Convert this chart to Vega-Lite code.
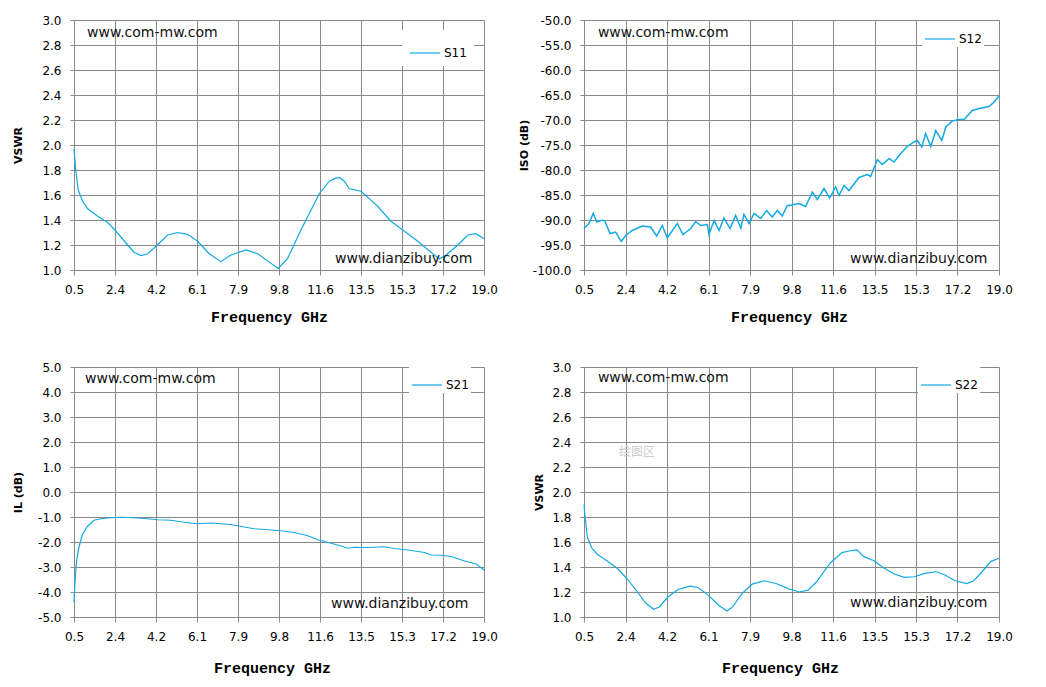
{
  "$schema": "https://vega.github.io/schema/vega-lite/v6.json",
  "background": "white",
  "padding": {"left": 12, "top": 14, "right": 0, "bottom": 6},
  "columns": 2,
  "spacing": {"column": 20, "row": 37},
  "resolve": {"scale": {"color": "independent"}, "legend": {"color": "independent"}},
  "config": {
    "view": {"stroke": null},
    "axis": {
      "gridColor": "#888888",
      "gridOpacity": 1,
      "gridWidth": 1,
      "domainColor": "#888888",
      "domainWidth": 1,
      "tickColor": "#888888",
      "tickSize": 4,
      "tickCount": 11,
      "labelFont": "DejaVu Sans",
      "labelFontSize": 12,
      "labelColor": "#000000",
      "labelPadding": 9,
      "labelFlush": false,
      "labelOverlap": false,
      "titleColor": "#000000"
    },
    "axisX": {
      "tickSize": 5,
      "labelPadding": 9,
      "titleFont": "Liberation Mono",
      "titleFontSize": 15,
      "titleFontWeight": "bold"
    },
    "axisY": {
      "titleFont": "DejaVu Sans",
      "titleFontSize": 11,
      "titleFontWeight": "bold"
    },
    "legend": {
      "orient": "none",
      "title": null,
      "symbolType": "stroke",
      "symbolSize": 900,
      "symbolStrokeWidth": 1.5,
      "labelFont": "DejaVu Sans",
      "labelFontSize": 12,
      "labelColor": "#000000",
      "labelOffset": 3,
      "padding": 2,
      "fillColor": "white"
    },
    "line": {"strokeWidth": 1.2}
  },
  "concat": [
    {
      "width": 410,
      "height": 250,
      "data": {"values": [
        {"f": 0.5, "v": 1.97}, {"f": 0.58, "v": 1.8}, {"f": 0.69, "v": 1.64}, {"f": 0.89, "v": 1.55},
        {"f": 1.12, "v": 1.49}, {"f": 1.57, "v": 1.43}, {"f": 2.02, "v": 1.38}, {"f": 2.4, "v": 1.31},
        {"f": 2.92, "v": 1.2}, {"f": 3.22, "v": 1.14}, {"f": 3.52, "v": 1.115}, {"f": 3.83, "v": 1.13},
        {"f": 4.2, "v": 1.19}, {"f": 4.73, "v": 1.28}, {"f": 5.18, "v": 1.3}, {"f": 5.63, "v": 1.285},
        {"f": 6.08, "v": 1.23}, {"f": 6.6, "v": 1.13}, {"f": 7.13, "v": 1.067}, {"f": 7.58, "v": 1.12},
        {"f": 8.26, "v": 1.16}, {"f": 8.79, "v": 1.13}, {"f": 9.39, "v": 1.053}, {"f": 9.72, "v": 1.013},
        {"f": 10.14, "v": 1.093}, {"f": 10.74, "v": 1.32}, {"f": 11.57, "v": 1.61}, {"f": 12.02, "v": 1.71},
        {"f": 12.3, "v": 1.735}, {"f": 12.47, "v": 1.74}, {"f": 12.7, "v": 1.71}, {"f": 12.92, "v": 1.65},
        {"f": 13.2, "v": 1.64}, {"f": 13.45, "v": 1.63}, {"f": 13.8, "v": 1.575}, {"f": 14.2, "v": 1.51},
        {"f": 14.8, "v": 1.39}, {"f": 15.41, "v": 1.31}, {"f": 16.01, "v": 1.23}, {"f": 16.76, "v": 1.12},
        {"f": 16.99, "v": 1.09}, {"f": 17.29, "v": 1.12}, {"f": 17.82, "v": 1.2}, {"f": 18.27, "v": 1.28},
        {"f": 18.64, "v": 1.29}, {"f": 19.0, "v": 1.25}
      ]},
      "layer": [
        {
          "mark": {"type": "line"},
          "encoding": {
            "x": {"field": "f", "type": "quantitative", "title": "Frequency GHz",
              "scale": {"domain": [0.5, 19], "nice": false, "zero": false},
              "axis": {"values": [0.5, 2.35, 4.2, 6.05, 7.9, 9.75, 11.6, 13.45, 15.3, 17.15, 19],
                "labelExpr": "format(datum.value + 0.0001, '.1f')", "titlePadding": 14, "titleX": 195}},
            "y": {"field": "v", "type": "quantitative", "title": "VSWR",
              "scale": {"domain": [1, 3], "nice": false, "zero": false},
              "axis": {"values": [1, 1.2, 1.4, 1.6, 1.8, 2, 2.2, 2.4, 2.6, 2.8, 3], "format": ".1f", "titlePadding": 18}},
            "color": {"datum": "S11", "type": "nominal", "scale": {"range": ["#12a9e4"]},
              "legend": {"legendX": 328, "legendY": 10, "padding": 7}}
          }
        },
        {
          "data": {"values": [{}]},
          "mark": {"type": "text", "align": "left", "baseline": "middle", "font": "DejaVu Sans", "fontSize": 14, "color": "#111111"},
          "encoding": {"x": {"datum": 1.09}, "y": {"datum": 2.896}, "text": {"value": "www.com-mw.com"}}
        },
        {
          "data": {"values": [{}]},
          "mark": {"type": "text", "align": "left", "baseline": "middle", "font": "DejaVu Sans", "fontSize": 14, "color": "#111111"},
          "encoding": {"x": {"datum": 12.28}, "y": {"datum": 1.088}, "text": {"value": "www.dianzibuy.com"}}
        }
      ]
    },
    {
      "width": 415,
      "height": 250,
      "data": {"values": [
        {"f": 0.5, "v": -91.7}, {"f": 0.72, "v": -90.7}, {"f": 0.91, "v": -88.7}, {"f": 1.07, "v": -90.4},
        {"f": 1.24, "v": -90.1}, {"f": 1.42, "v": -90.1}, {"f": 1.66, "v": -92.7}, {"f": 1.91, "v": -92.4},
        {"f": 2.16, "v": -94.3}, {"f": 2.36, "v": -93.1}, {"f": 2.65, "v": -92.1}, {"f": 3.1, "v": -91.2},
        {"f": 3.47, "v": -91.4}, {"f": 3.74, "v": -93.2}, {"f": 3.99, "v": -91.1}, {"f": 4.21, "v": -93.6},
        {"f": 4.66, "v": -90.7}, {"f": 4.91, "v": -92.9}, {"f": 5.26, "v": -91.7}, {"f": 5.48, "v": -90.3},
        {"f": 5.7, "v": -91.1}, {"f": 6.0, "v": -90.9}, {"f": 6.07, "v": -92.9}, {"f": 6.3, "v": -90.1},
        {"f": 6.52, "v": -92.1}, {"f": 6.74, "v": -89.6}, {"f": 7.01, "v": -91.7}, {"f": 7.26, "v": -89.1},
        {"f": 7.49, "v": -91.6}, {"f": 7.63, "v": -88.9}, {"f": 7.86, "v": -90.7}, {"f": 8.08, "v": -88.7},
        {"f": 8.38, "v": -89.7}, {"f": 8.64, "v": -88.1}, {"f": 8.89, "v": -89.4}, {"f": 9.12, "v": -88.1},
        {"f": 9.34, "v": -89.2}, {"f": 9.56, "v": -87.1}, {"f": 9.64, "v": -87.1}, {"f": 10.09, "v": -86.7},
        {"f": 10.38, "v": -87.3}, {"f": 10.68, "v": -84.4}, {"f": 10.9, "v": -85.9}, {"f": 11.2, "v": -83.7},
        {"f": 11.45, "v": -85.6}, {"f": 11.72, "v": -83.4}, {"f": 11.87, "v": -85.1}, {"f": 12.09, "v": -83.1},
        {"f": 12.31, "v": -84.1}, {"f": 12.76, "v": -81.5}, {"f": 13.13, "v": -80.9}, {"f": 13.28, "v": -81.3},
        {"f": 13.58, "v": -77.9}, {"f": 13.8, "v": -78.9}, {"f": 14.1, "v": -77.7}, {"f": 14.32, "v": -78.4},
        {"f": 14.62, "v": -76.7}, {"f": 14.91, "v": -75.3}, {"f": 15.21, "v": -74.4}, {"f": 15.36, "v": -74.1},
        {"f": 15.56, "v": -75.4}, {"f": 15.73, "v": -72.7}, {"f": 15.96, "v": -75.3}, {"f": 16.18, "v": -72.1},
        {"f": 16.45, "v": -74.1}, {"f": 16.63, "v": -71.4}, {"f": 16.92, "v": -70.2}, {"f": 17.22, "v": -69.9},
        {"f": 17.44, "v": -69.9}, {"f": 17.81, "v": -68.1}, {"f": 18.11, "v": -67.7}, {"f": 18.56, "v": -67.3},
        {"f": 18.78, "v": -66.4}, {"f": 19.0, "v": -65.2}
      ]},
      "layer": [
        {
          "mark": {"type": "line", "strokeWidth": 1.5},
          "encoding": {
            "x": {"field": "f", "type": "quantitative", "title": "Frequency GHz",
              "scale": {"domain": [0.5, 19], "nice": false, "zero": false},
              "axis": {"values": [0.5, 2.35, 4.2, 6.05, 7.9, 9.75, 11.6, 13.45, 15.3, 17.15, 19],
                "labelExpr": "format(datum.value + 0.0001, '.1f')", "titlePadding": 14, "titleX": 205}},
            "y": {"field": "v", "type": "quantitative", "title": "ISO (dB)",
              "scale": {"domain": [-100, -50], "nice": false, "zero": false},
              "axis": {"values": [-100, -95, -90, -85, -80, -75, -70, -65, -60, -55, -50],
                "labelExpr": "replace(format(datum.value, '.1f'), '\u2212', '-')", "titlePadding": 3}},
            "color": {"datum": "S12", "type": "nominal", "scale": {"range": ["#12a9e4"]},
              "legend": {"legendX": 338, "legendY": 1}}
          }
        },
        {
          "data": {"values": [{}]},
          "mark": {"type": "text", "align": "left", "baseline": "middle", "font": "DejaVu Sans", "fontSize": 14, "color": "#111111"},
          "encoding": {"x": {"datum": 1.12}, "y": {"datum": -52.6}, "text": {"value": "www.com-mw.com"}}
        },
        {
          "data": {"values": [{}]},
          "mark": {"type": "text", "align": "left", "baseline": "middle", "font": "DejaVu Sans", "fontSize": 14, "color": "#111111"},
          "encoding": {"x": {"datum": 12.36}, "y": {"datum": -97.8}, "text": {"value": "www.dianzibuy.com"}}
        }
      ]
    },
    {
      "width": 410,
      "height": 250,
      "data": {"values": [
        {"f": 0.5, "v": -4.4}, {"f": 0.56, "v": -3.39}, {"f": 0.62, "v": -2.72}, {"f": 0.73, "v": -2.18},
        {"f": 0.88, "v": -1.71}, {"f": 1.1, "v": -1.38}, {"f": 1.4, "v": -1.13}, {"f": 1.71, "v": -1.07},
        {"f": 2.16, "v": -1.03}, {"f": 2.61, "v": -1.01}, {"f": 3.21, "v": -1.03}, {"f": 3.81, "v": -1.07},
        {"f": 4.27, "v": -1.11}, {"f": 4.87, "v": -1.13}, {"f": 5.47, "v": -1.21}, {"f": 6.07, "v": -1.27},
        {"f": 6.68, "v": -1.24}, {"f": 7.28, "v": -1.28}, {"f": 7.73, "v": -1.32}, {"f": 8.18, "v": -1.4},
        {"f": 8.64, "v": -1.47}, {"f": 9.24, "v": -1.51}, {"f": 9.84, "v": -1.55}, {"f": 10.44, "v": -1.62},
        {"f": 11.05, "v": -1.75}, {"f": 11.5, "v": -1.91}, {"f": 12.1, "v": -2.05}, {"f": 12.63, "v": -2.18},
        {"f": 12.85, "v": -2.25}, {"f": 13.15, "v": -2.21}, {"f": 13.76, "v": -2.22}, {"f": 14.51, "v": -2.19},
        {"f": 14.96, "v": -2.26}, {"f": 15.57, "v": -2.32}, {"f": 16.32, "v": -2.42}, {"f": 16.62, "v": -2.52},
        {"f": 17.07, "v": -2.53}, {"f": 17.52, "v": -2.58}, {"f": 18.13, "v": -2.76}, {"f": 18.65, "v": -2.88},
        {"f": 19.0, "v": -3.12}
      ]},
      "layer": [
        {
          "mark": {"type": "line"},
          "encoding": {
            "x": {"field": "f", "type": "quantitative", "title": "Frequency GHz",
              "scale": {"domain": [0.5, 19], "nice": false, "zero": false},
              "axis": {"values": [0.5, 2.35, 4.2, 6.05, 7.9, 9.75, 11.6, 13.45, 15.3, 17.15, 19],
                "labelExpr": "format(datum.value + 0.0001, '.1f')", "titlePadding": 18, "titleX": 198}},
            "y": {"field": "v", "type": "quantitative", "title": "IL (dB)",
              "scale": {"domain": [-5, 5], "nice": false, "zero": false},
              "axis": {"values": [-5, -4, -3, -2, -1, 0, 1, 2, 3, 4, 5],
                "labelExpr": "replace(format(datum.value, '.1f'), '\u2212', '-')", "titlePadding": 14}},
            "color": {"datum": "S21", "type": "nominal", "scale": {"range": ["#12a9e4"]},
              "legend": {"legendX": 335, "legendY": 0}}
          }
        },
        {
          "data": {"values": [{}]},
          "mark": {"type": "text", "align": "left", "baseline": "middle", "font": "DejaVu Sans", "fontSize": 14, "color": "#111111"},
          "encoding": {"x": {"datum": 1.0}, "y": {"datum": 4.52}, "text": {"value": "www.com-mw.com"}}
        },
        {
          "data": {"values": [{}]},
          "mark": {"type": "text", "align": "left", "baseline": "middle", "font": "DejaVu Sans", "fontSize": 14, "color": "#111111"},
          "encoding": {"x": {"datum": 12.1}, "y": {"datum": -4.48}, "text": {"value": "www.dianzibuy.com"}}
        }
      ]
    },
    {
      "width": 415,
      "height": 250,
      "data": {"values": [
        {"f": 0.5, "v": 1.9}, {"f": 0.56, "v": 1.78}, {"f": 0.65, "v": 1.64}, {"f": 0.85, "v": 1.55},
        {"f": 1.1, "v": 1.5}, {"f": 1.52, "v": 1.45}, {"f": 1.98, "v": 1.39}, {"f": 2.4, "v": 1.31},
        {"f": 2.88, "v": 1.2}, {"f": 3.26, "v": 1.11}, {"f": 3.6, "v": 1.062}, {"f": 3.86, "v": 1.08},
        {"f": 4.24, "v": 1.16}, {"f": 4.69, "v": 1.22}, {"f": 5.22, "v": 1.247}, {"f": 5.59, "v": 1.236},
        {"f": 6.04, "v": 1.175}, {"f": 6.5, "v": 1.094}, {"f": 6.87, "v": 1.048}, {"f": 7.1, "v": 1.075},
        {"f": 7.55, "v": 1.188}, {"f": 8.0, "v": 1.263}, {"f": 8.53, "v": 1.29}, {"f": 9.06, "v": 1.268},
        {"f": 9.66, "v": 1.223}, {"f": 10.11, "v": 1.2}, {"f": 10.49, "v": 1.215}, {"f": 10.86, "v": 1.28},
        {"f": 11.47, "v": 1.43}, {"f": 12.0, "v": 1.515}, {"f": 12.37, "v": 1.53}, {"f": 12.67, "v": 1.537},
        {"f": 12.97, "v": 1.483}, {"f": 13.43, "v": 1.45}, {"f": 13.88, "v": 1.39}, {"f": 14.33, "v": 1.344},
        {"f": 14.78, "v": 1.317}, {"f": 15.23, "v": 1.322}, {"f": 15.69, "v": 1.349}, {"f": 16.21, "v": 1.362},
        {"f": 16.59, "v": 1.336}, {"f": 17.04, "v": 1.29}, {"f": 17.57, "v": 1.268}, {"f": 17.87, "v": 1.29},
        {"f": 18.25, "v": 1.362}, {"f": 18.62, "v": 1.443}, {"f": 19.0, "v": 1.47}
      ]},
      "layer": [
        {
          "mark": {"type": "line"},
          "encoding": {
            "x": {"field": "f", "type": "quantitative", "title": "Frequency GHz",
              "scale": {"domain": [0.5, 19], "nice": false, "zero": false},
              "axis": {"values": [0.5, 2.35, 4.2, 6.05, 7.9, 9.75, 11.6, 13.45, 15.3, 17.15, 19],
                "labelExpr": "format(datum.value + 0.0001, '.1f')", "titlePadding": 18, "titleX": 196}},
            "y": {"field": "v", "type": "quantitative", "title": "VSWR",
              "scale": {"domain": [1, 3], "nice": false, "zero": false},
              "axis": {"values": [1, 1.2, 1.4, 1.6, 1.8, 2, 2.2, 2.4, 2.6, 2.8, 3], "format": ".1f", "titlePadding": 7}},
            "color": {"datum": "S22", "type": "nominal", "scale": {"range": ["#12a9e4"]},
              "legend": {"legendX": 334, "legendY": 0}}
          }
        },
        {
          "data": {"values": [{}]},
          "mark": {"type": "text", "align": "left", "baseline": "middle", "font": "DejaVu Sans", "fontSize": 14, "color": "#111111"},
          "encoding": {"x": {"datum": 1.12}, "y": {"datum": 2.91}, "text": {"value": "www.com-mw.com"}}
        },
        {
          "data": {"values": [{}]},
          "mark": {"type": "text", "align": "left", "baseline": "middle", "font": "DejaVu Sans", "fontSize": 14, "color": "#111111"},
          "encoding": {"x": {"datum": 12.36}, "y": {"datum": 1.113}, "text": {"value": "www.dianzibuy.com"}}
        },
        {
          "data": {"values": [{}]},
          "mark": {"type": "text", "align": "center", "baseline": "middle", "font": "Noto Sans CJK SC", "fontSize": 12, "color": "#cccccc"},
          "encoding": {"x": {"datum": 2.86}, "y": {"datum": 2.32}, "text": {"value": "绘图区"}}
        }
      ]
    }
  ]
}
